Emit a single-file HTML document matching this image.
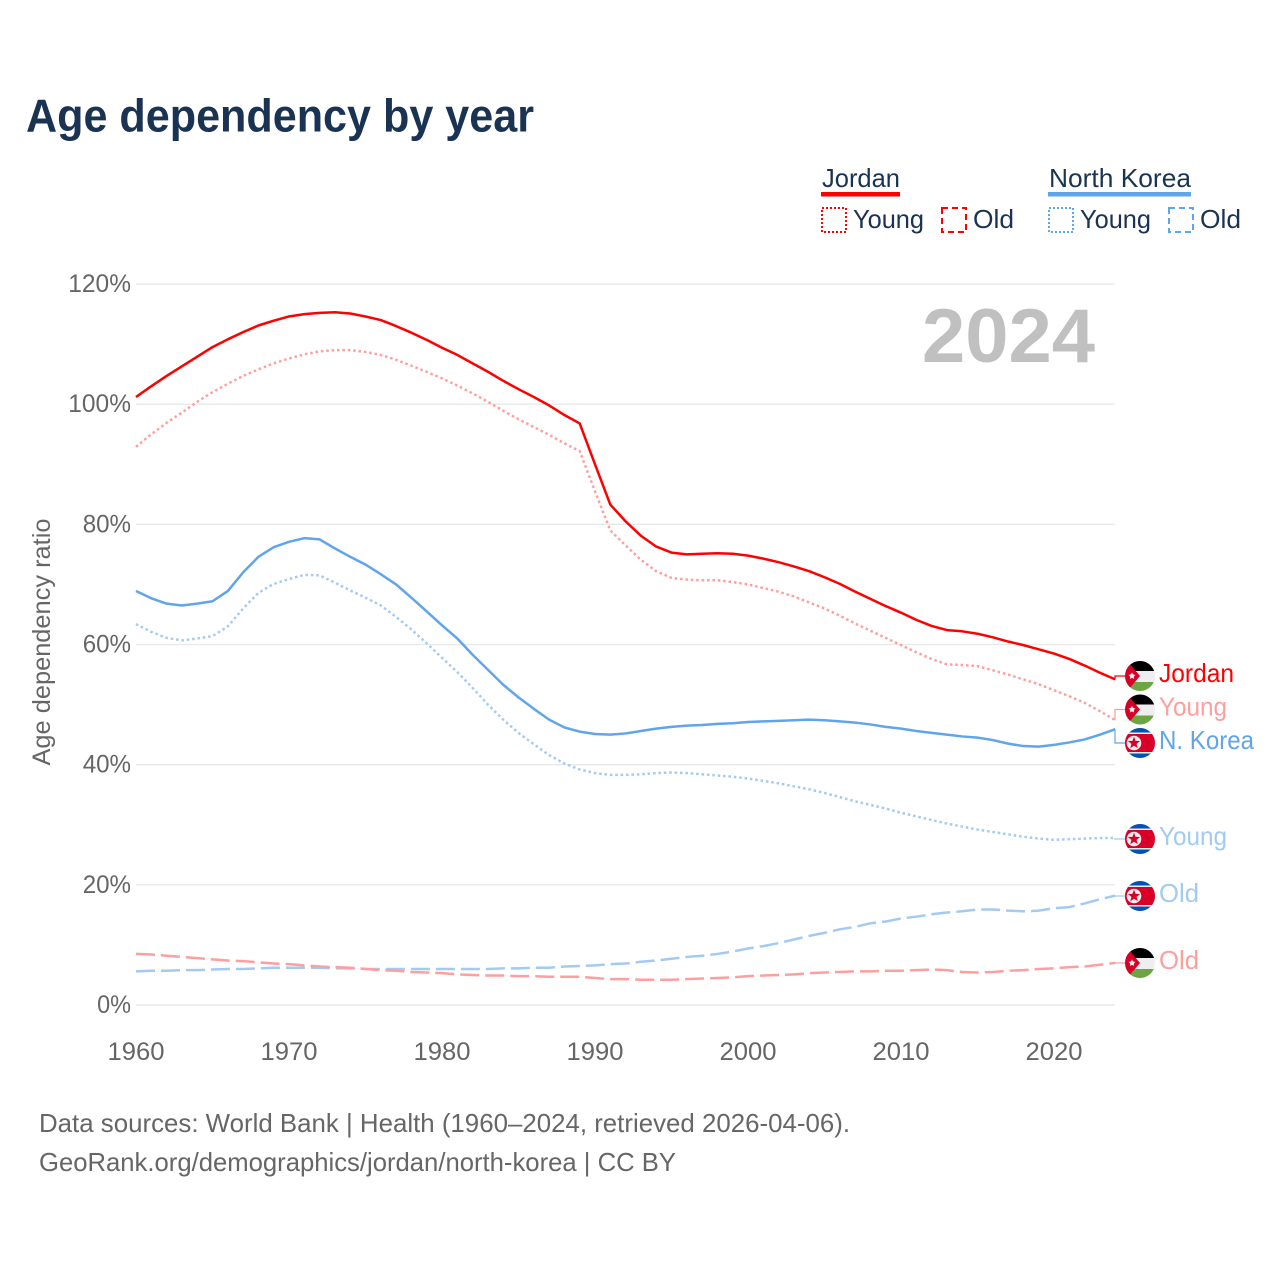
<!DOCTYPE html>
<html lang="en">
<head>
<meta charset="utf-8">
<title>Age dependency by year</title>
<style>
html,body{margin:0;padding:0;background:#fff}
svg{display:block}
text{font-family:"Liberation Sans",sans-serif}
</style>
</head>
<body>
<svg id="chart" xmlns="http://www.w3.org/2000/svg" width="1280" height="1280" viewBox="0 0 1280 1280">
<defs>
<clipPath id="flag-clip"><circle cx="0" cy="0" r="15"></circle></clipPath>
</defs>
<rect x="0" y="0" width="1280" height="1280" fill="#fff"></rect>
<text x="26" y="131.5" font-size="46" font-weight="700" fill="#1a3353" textLength="508" lengthAdjust="spacingAndGlyphs">Age dependency by year</text>

<g font-size="26" fill="#1a3353">
<text x="822" y="187" textLength="78" lengthAdjust="spacingAndGlyphs">Jordan</text>
<rect x="821" y="192" width="79" height="4.5" fill="#ff0000"></rect>
<rect x="822" y="208" width="24" height="24" fill="none" stroke="#ff0000" stroke-width="2" stroke-dasharray="2 2"></rect>
<text x="853" y="228" textLength="71" lengthAdjust="spacingAndGlyphs">Young</text>
<rect x="942" y="208" width="24" height="24" fill="none" stroke="#ff0000" stroke-width="2" stroke-dasharray="6 4"></rect>
<text x="973" y="228" textLength="41" lengthAdjust="spacingAndGlyphs">Old</text>
<text x="1049" y="187" textLength="142" lengthAdjust="spacingAndGlyphs">North Korea</text>
<rect x="1048" y="192" width="143" height="4.5" fill="#60a5ec"></rect>
<rect x="1049" y="208" width="24" height="24" fill="none" stroke="#60a5ec" stroke-width="2" stroke-dasharray="2 2"></rect>
<text x="1080" y="228" textLength="71" lengthAdjust="spacingAndGlyphs">Young</text>
<rect x="1169" y="208" width="24" height="24" fill="none" stroke="#60a5ec" stroke-width="2" stroke-dasharray="6 4"></rect>
<text x="1200" y="228" textLength="41" lengthAdjust="spacingAndGlyphs">Old</text>
</g>

<g id="grid"></g>
<g id="yticks"></g>
<g id="xticks"></g>
<text transform="translate(50,642) rotate(-90)" text-anchor="middle" font-size="25" fill="#666" textLength="247" lengthAdjust="spacingAndGlyphs">Age dependency ratio</text>
<text x="922" y="362" font-size="76" font-weight="700" fill="#c0c0c0" textLength="173" lengthAdjust="spacingAndGlyphs">2024</text>
<g id="series"></g>
<g id="end-labels"></g>

<text x="39" y="1132" font-size="26" fill="#666" textLength="811" lengthAdjust="spacingAndGlyphs">Data sources: World Bank | Health (1960–2024, retrieved 2026-04-06).</text>
<text x="39" y="1171" font-size="26" fill="#666" textLength="637" lengthAdjust="spacingAndGlyphs">GeoRank.org/demographics/jordan/north-korea | CC BY</text>
</svg>
<script>
const startYear = 1960;
const yTickValues = [0, 20, 40, 60, 80, 100, 120];
const xTickValues = [1960, 1970, 1980, 1990, 2000, 2010, 2020];
const jordanTotal = [101.2,103.0,104.7,106.3,107.9,109.5,110.8,112.0,113.1,113.9,114.6,115.0,115.2,115.3,115.1,114.6,114.0,113.0,111.9,110.7,109.4,108.2,106.8,105.4,103.9,102.5,101.2,99.8,98.2,96.8,90.0,83.3,80.5,78.1,76.3,75.3,75.0,75.1,75.2,75.1,74.8,74.3,73.7,73.0,72.2,71.2,70.1,68.8,67.6,66.4,65.3,64.1,63.1,62.4,62.2,61.8,61.2,60.5,59.9,59.2,58.5,57.6,56.5,55.3,54.2];
const jordanYoung = [92.9,95.0,96.9,98.6,100.4,102.0,103.4,104.7,105.8,106.8,107.6,108.3,108.8,109.0,109.0,108.7,108.2,107.4,106.4,105.4,104.3,103.1,101.8,100.4,98.9,97.5,96.2,94.9,93.5,92.2,85.5,79.0,76.5,74.1,72.2,71.1,70.8,70.7,70.7,70.4,70.0,69.4,68.8,68.0,67.0,66.0,64.8,63.5,62.3,61.1,59.9,58.7,57.6,56.7,56.6,56.4,55.7,55.0,54.2,53.4,52.4,51.4,50.3,48.9,47.4];
const jordanOld = [8.5,8.4,8.2,8.0,7.8,7.6,7.4,7.3,7.1,6.9,6.8,6.6,6.4,6.3,6.2,6.0,5.8,5.7,5.5,5.4,5.3,5.1,5.0,4.9,4.9,4.8,4.8,4.7,4.7,4.7,4.5,4.3,4.3,4.2,4.2,4.2,4.3,4.4,4.5,4.6,4.8,4.9,5.0,5.1,5.3,5.4,5.5,5.6,5.6,5.7,5.7,5.8,5.9,5.8,5.5,5.4,5.5,5.7,5.8,6.0,6.1,6.3,6.4,6.7,7.0];
const koreaTotal = [68.9,67.7,66.8,66.5,66.8,67.2,68.9,72.0,74.6,76.2,77.1,77.7,77.5,76.0,74.6,73.3,71.7,70.0,67.8,65.5,63.2,61.0,58.3,55.8,53.3,51.2,49.3,47.5,46.2,45.5,45.1,45.0,45.2,45.6,46.0,46.3,46.5,46.6,46.8,46.9,47.1,47.2,47.3,47.4,47.5,47.4,47.2,47.0,46.7,46.3,46.0,45.6,45.3,45.0,44.7,44.5,44.1,43.5,43.1,43.0,43.3,43.7,44.2,45.0,45.9];
const koreaYoung = [63.4,62.1,61.1,60.7,61.0,61.4,63.0,66.0,68.6,70.1,70.9,71.6,71.5,70.3,69.0,67.8,66.5,64.6,62.5,60.2,57.8,55.4,52.8,50.0,47.5,45.3,43.4,41.6,40.2,39.2,38.6,38.3,38.3,38.4,38.6,38.7,38.6,38.4,38.2,38.0,37.7,37.3,36.9,36.4,35.9,35.3,34.6,33.9,33.3,32.7,32.0,31.4,30.8,30.2,29.7,29.2,28.8,28.4,28.0,27.7,27.5,27.6,27.7,27.8,27.8];
const koreaOld = [5.6,5.7,5.7,5.8,5.8,5.9,6.0,6.0,6.1,6.2,6.2,6.2,6.2,6.1,6.1,6.0,6.0,6.0,6.0,6.0,6.0,6.0,6.0,6.0,6.1,6.1,6.2,6.2,6.4,6.5,6.6,6.8,6.9,7.2,7.4,7.7,8.0,8.2,8.5,8.9,9.4,9.8,10.3,10.9,11.5,12.0,12.6,13.0,13.6,13.9,14.4,14.7,15.1,15.4,15.6,15.9,15.9,15.7,15.6,15.7,16.1,16.3,16.9,17.6,18.2];
const seriesNames = ["korea-old","jordan-old","korea-young","jordan-young","korea-total","jordan-total"];
const seriesValues = [koreaOld, jordanOld, koreaYoung, jordanYoung, koreaTotal, jordanTotal];
const endLabelTexts = ["Jordan","Young","N. Korea","Young","Old","Old"];
const endLabelSeries = [jordanTotal, jordanYoung, koreaTotal, koreaYoung, koreaOld, jordanOld];

const SVGNS = "http://www.w3.org/2000/svg";
function xScale(year) { return 136 + (year - 1960) * 15.3; }
function yScale(v) { return 1005 - v * 6.008; }
function make(tag, parent, attrs) {
  const el = document.createElementNS(SVGNS, tag);
  for (const k in attrs) el.setAttribute(k, attrs[k]);
  parent.appendChild(el);
  return el;
}

const gridG = document.getElementById("grid");
const yG = document.getElementById("yticks");
yTickValues.forEach(function (v) {
  const line = make("line", gridG, {x1: 136, x2: 1115, y1: yScale(v), y2: yScale(v), stroke: "#e9e9e9", "stroke-width": 1.4});
  
  
  const label = v + "%";
  const t = make("text", yG, {x: 131, y: yScale(v) + 8, "text-anchor": "end", "font-size": 25, fill: "#666",
    textLength: (label.length - 1) * 14.4 + 19.5, lengthAdjust: "spacingAndGlyphs"});
  t.textContent = label;
  
  
});

const xG = document.getElementById("xticks");
xTickValues.forEach(function (yr) {
  const t = make("text", xG, {x: xScale(yr), y: 1060, "text-anchor": "middle", "font-size": 25, fill: "#666",
    textLength: 57, lengthAdjust: "spacingAndGlyphs"});
  t.textContent = String(yr);
  
  
});

function seriesStyle(name) {
  const blue = name.indexOf("korea") === 0;
  if (name.indexOf("total") > 0) return {stroke: blue ? "#60a5ec" : "#ff0000", dash: "none"};
  if (name.indexOf("young") > 0) return {stroke: blue ? "#a3caf1" : "#ff9e9e", dash: "2.5 2.9"};
  return {stroke: blue ? "#a3caf1" : "#ff9e9e", dash: "19 6"};
}
const seriesG = document.getElementById("series");
seriesValues.forEach(function (vals, i) {
  const st = seriesStyle(seriesNames[i]);
  const d = vals.map(function (v, j) {
    return (j ? "L" : "M") + xScale(startYear + j).toFixed(2) + " " + yScale(v).toFixed(2);
  }).join("");
  const p = make("path", seriesG, {d: d, fill: "none", stroke: st.stroke, "stroke-width": 2.5,
    "stroke-dasharray": st.dash, "stroke-linejoin": "round"});
  
  
});

/* end labels: connector, flag, text */
const labelLayoutFlags = ["jo","jo","kp","kp","kp","jo"];
const labelLayoutColors = ["#ff0000","#ff9e9e","#60a5ec","#a3caf1","#a3caf1","#ff9e9e"];
const labelRowY = [676, 709.5, 743, 839, 896, 963];
const labelTextWidth = [75, 68, 95, 68, 40, 40];

function starPoints(cx, cy, R) {
  const pts = [];
  for (let i = 0; i < 10; i++) {
    const r = i % 2 ? R * 0.42 : R;
    const a = -Math.PI / 2 + i * Math.PI / 5;
    pts.push((cx + r * Math.cos(a)).toFixed(2) + "," + (cy + r * Math.sin(a)).toFixed(2));
  }
  return pts.join(" ");
}

function drawFlag(parent, kind, cy) {
  const g = make("g", parent, {transform: "translate(1140," + cy + ")", "clip-path": "url(#flag-clip)"});
  if (kind === "jo") {
    make("rect", g, {x: -15, y: -15, width: 30, height: 10, fill: "#000"});
    make("rect", g, {x: -15, y: -5, width: 30, height: 11, fill: "#eeeeee"});
    make("rect", g, {x: -15, y: 6, width: 30, height: 9, fill: "#6da544"});
    make("polygon", g, {points: "-15,-15 -11,-13 0,0 -11,13 -15,15", fill: "#d80027"});
    make("polygon", g, {points: starPoints(-8, 0, 3.8), fill: "#eeeeee"});
    make("circle", g, {cx: -8, cy: 0, r: 2.2, fill: "#eeeeee"});
  } else {
    make("rect", g, {x: -15, y: -15, width: 30, height: 30, fill: "#0052b4"});
    make("rect", g, {x: -15, y: -10.5, width: 30, height: 21, fill: "#eeeeee"});
    make("rect", g, {x: -15, y: -9, width: 30, height: 18, fill: "#d80027"});
    make("circle", g, {cx: -6, cy: 0, r: 7.3, fill: "#eeeeee"});
    make("polygon", g, {points: starPoints(-6, 0, 6.4), fill: "#d80027"});
  }
  return g;
}

const endG = document.getElementById("end-labels");
endLabelTexts.forEach(function (txt, i) {
  const ly = yScale(endLabelSeries[i][endLabelSeries[i].length - 1]);
  const rowY = labelRowY[i];
  const conn = make("path", endG, {d: "M1115 " + ly.toFixed(2) + "V" + rowY + "H1125", fill: "none",
    stroke: labelLayoutColors[i], "stroke-width": 1.2});
  
  
  const f = drawFlag(endG, labelLayoutFlags[i], rowY);
  
  
  const t = make("text", endG, {x: 1159, y: rowY + 6, "font-size": 26, fill: labelLayoutColors[i],
    textLength: labelTextWidth[i], lengthAdjust: "spacingAndGlyphs"});
  t.textContent = txt;
  
  
});
</script>
</body>
</html>
